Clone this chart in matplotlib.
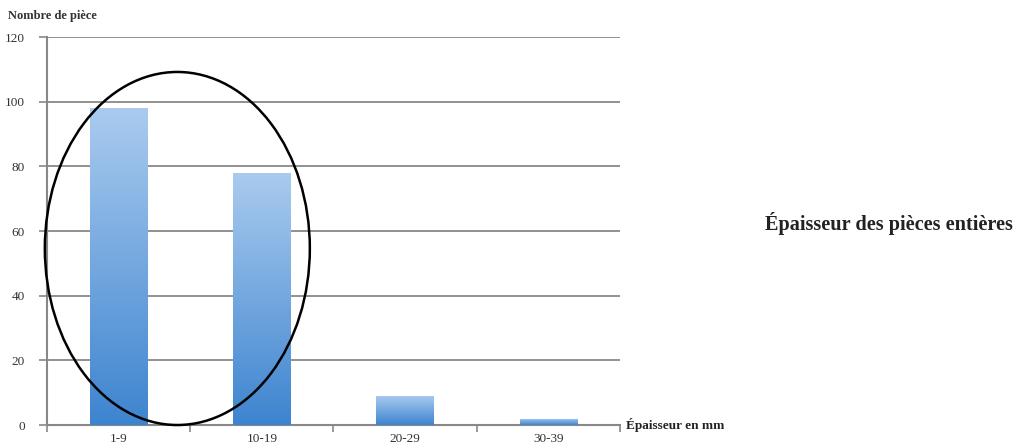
import matplotlib
matplotlib.use('Agg')
import matplotlib.pyplot as plt
import numpy as np
from matplotlib.colors import LinearSegmentedColormap
from matplotlib.patches import Ellipse

categories = ['1-9', '10-19', '20-29', '30-39']
counts = [98, 78, 9, 2]
y_ticks = [0, 20, 40, 60, 80, 100, 120]

plt.rcParams['font.family'] = ['Liberation Serif', 'DejaVu Serif']

fig = plt.figure(figsize=(10.17, 4.48), dpi=100)
ax = fig.add_axes([0.0462, 0.0513, 0.5634, 0.866])

x = np.arange(len(categories))
bars = ax.bar(x, counts, width=0.4, color='none', edgecolor='none', zorder=3)

# vertical gradient inside each bar: light on top, darker at bottom
cmap = LinearSegmentedColormap.from_list('bluegrad', ['#3d84cf', '#aacbef'])
grad = np.linspace(0, 1, 256).reshape(-1, 1)
for bar in bars:
    x0, w, h = bar.get_x(), bar.get_width(), bar.get_height()
    im = ax.imshow(grad, cmap=cmap, aspect='auto', origin='lower',
                   extent=[x0, x0 + w, 0, h], zorder=3)
    im.set_clip_path(bar)

ax.set_xlim(-0.5, 3.5)
ax.set_ylim(0, 120)
ax.set_yticks(y_ticks)
ax.set_yticklabels([str(v) for v in y_ticks], fontsize=9.5, color='#333333')
ax.set_xticks(x)
ax.set_xticklabels(categories, fontsize=9.5, color='#333333')
ax.set_xticks(np.arange(-0.5, 4.0, 1.0), minor=True)
ax.tick_params(axis='x', which='major', length=0, pad=6)
ax.tick_params(axis='x', which='minor', length=5, width=1.2, color='#888888', direction='out')
ax.tick_params(axis='y', length=6, width=1.2, color='#888888', pad=10)

ax.grid(axis='y', color='#888888', linewidth=1.3, zorder=1)
ax.set_axisbelow(True)
for s in ['top', 'right']:
    ax.spines[s].set_visible(False)
for s in ['left', 'bottom']:
    ax.spines[s].set_color('#888888')
    ax.spines[s].set_linewidth(1.5)

# oval around the first two classes
ell = Ellipse((0.41, 54.6), 1.85, 109.2, fill=False, edgecolor='black',
              linewidth=1.8, zorder=5, clip_on=False)
ax.add_patch(ell)

fig.text(0.008, 0.965, 'Nombre de pièce', fontsize=9, fontweight='bold',
         color='#333333', ha='left', va='center')
fig.text(0.616, 0.051, 'Épaisseur en mm', fontsize=9.5, fontweight='bold',
         color='#222222', ha='left', va='center')
fig.text(0.752, 0.502, 'Épaisseur des pièces entières', fontsize=14.6,
         fontweight='bold', color='#222222', ha='left', va='center')

plt.savefig('out.png', dpi=100)
plt.close()
